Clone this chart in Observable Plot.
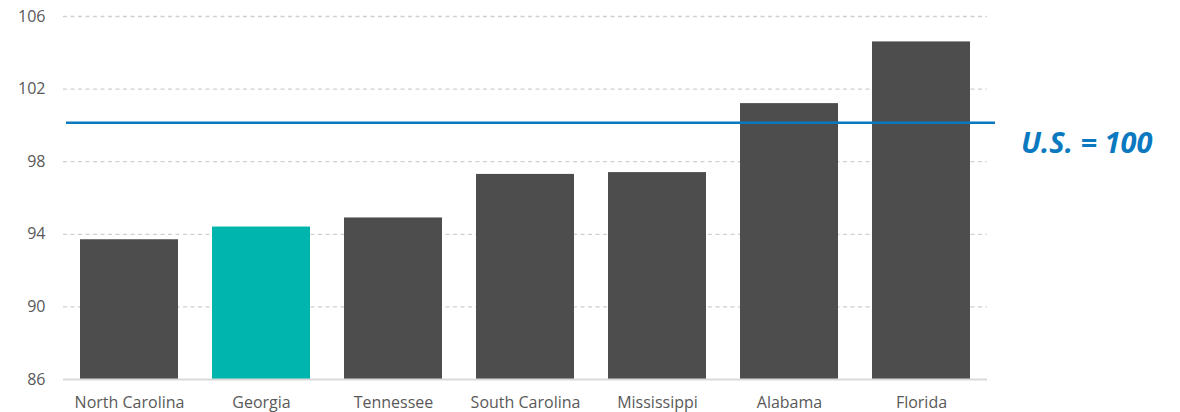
<!DOCTYPE html>
<html><head><meta charset="utf-8">
<script src="https://cdn.jsdelivr.net/npm/d3@7"></script>
<script src="https://cdn.jsdelivr.net/npm/@observablehq/plot@0.6"></script>
<style>
body{margin:0;background:#fff;}
#chart{position:relative;width:1180px;height:412px;}
#chart svg{font-family:"Open Sans",sans-serif;}
</style></head><body>
<div id="chart"></div>
<script>
const states = ["North Carolina","Georgia","Tennessee","South Carolina","Mississippi","Alabama","Florida"];
const values = [93.7,94.4,94.9,97.3,97.4,101.2,104.6];
const highlight = ["Georgia"];
const yTicks = [86,90,94,98,102,106];
const usLine = 100.15;
const usLabel = "U.S. = 100";

const data = states.map((s,i)=>({state:s,value:values[i]}));
const plot = Plot.plot({
  width:1180, height:412,
  marginLeft:63, marginRight:193, marginTop:16, marginBottom:33,
  x:{domain:states, paddingInner:0.26, paddingOuter:0.13, label:null, tickSize:0, tickPadding:17},
  y:{domain:[86,106], axis:null},
  style:{fontSize:"16px", color:"#595959"},
  marks:[
    Plot.ruleY(yTicks.filter(t=>t>86), {stroke:"#d0d0d0", strokeWidth:1.3, strokeDasharray:"4,3.5"}),
    Plot.text(yTicks, {y:d=>d, frameAnchor:"left", dx:-18, textAnchor:"end", text:d=>String(d), fill:"#595959", fontSize:16}),
    Plot.barY(data, {x:"state", y1:86, y2:"value", fill:d=>highlight.includes(d.state)?"#00b5ad":"#4d4d4d"}),
    Plot.ruleY([86], {stroke:"#d9d9d9", strokeWidth:2}),
    Plot.ruleY([usLine], {stroke:"#0a79bf", strokeWidth:2.5, insetLeft:3, insetRight:-8}),
    Plot.text([usLabel], {frameAnchor:"right", y:usLine, dx:165, dy:21, text:d=>d, fill:"#0a79bf", fontSize:29, fontWeight:"bold", fontStyle:"italic", textAnchor:"end"})
  ]
});
document.getElementById("chart").appendChild(plot);
</script></body></html>
